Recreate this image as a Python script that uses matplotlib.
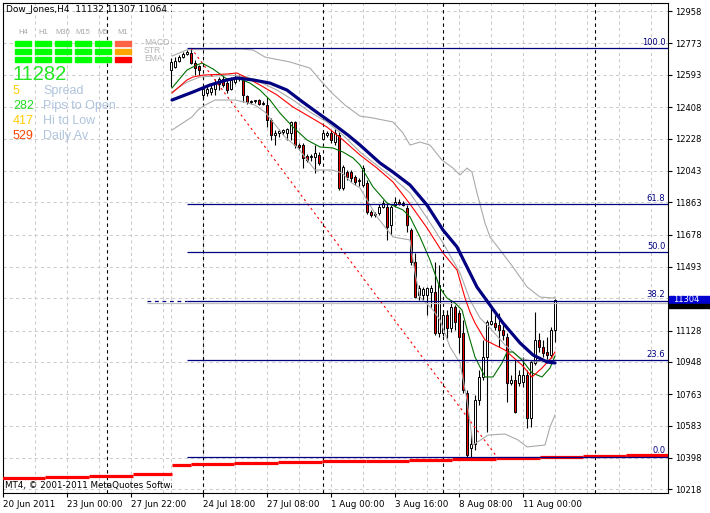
import matplotlib
matplotlib.use("Agg")
import matplotlib.pyplot as plt
from matplotlib.patches import Rectangle
from matplotlib.transforms import Bbox, blended_transform_factory

# H4 candles, bar 0 = first bar after the gap in history
opens = [12621, 12638, 12672, 12695, 12712, 12718, 12661, 12644, 12478, 12489,
         12495, 12512, 12540, 12569, 12546, 12512, 12552, 12575, 12564, 12472,
         12443, 12443, 12449, 12432, 12420, 12334, 12248, 12260, 12265, 12260,
         12260, 12323, 12191, 12191, 12128, 12122, 12122, 12134, 12226, 12248,
         12260, 12208, 12248, 11945, 12036, 12036, 12008, 11985, 11962, 11974,
         11808, 11796, 11802, 11836, 11836, 11733, 11847, 11865, 11859, 11830,
         11704, 11521, 11332, 11332, 11332, 11349, 11349, 11114, 11114, 11217,
         11142, 11263, 11228, 11114, 10770, 10455, 10478, 10730, 10862, 10976,
         11165, 11171, 11160, 11131, 11091, 10827, 10845, 10827, 10833, 10873,
         10627, 10942, 11074, 11034, 11005, 10988, 11132]
highs = [12690, 12695, 12707, 12724, 12736, 12747, 12678, 12650, 12523, 12529,
         12535, 12569, 12581, 12587, 12575, 12581, 12598, 12592, 12581, 12478,
         12449, 12449, 12455, 12443, 12466, 12346, 12277, 12283, 12283, 12288,
         12329, 12329, 12202, 12202, 12140, 12140, 12191, 12151, 12277, 12271,
         12277, 12283, 12265, 12077, 12048, 12048, 12019, 12002, 12077, 11991,
         11819, 11808, 11853, 11876, 11859, 11847, 11893, 11882, 11870, 11847,
         11716, 11572, 11389, 11378, 11378, 11389, 11521, 11504, 11246, 11246,
         11303, 11274, 11246, 11188, 10787, 10547, 10759, 10902, 11074, 11188,
         11263, 11217, 11228, 11160, 11114, 10873, 10959, 10902, 10976, 10902,
         10959, 11234, 11114, 11074, 11091, 11148, 11307]
lows = [12524, 12632, 12667, 12690, 12707, 12655, 12592, 12592, 12449, 12472,
        12478, 12478, 12506, 12524, 12489, 12506, 12540, 12558, 12437, 12426,
        12426, 12432, 12420, 12420, 12294, 12220, 12191, 12237, 12248, 12220,
        12220, 12174, 12162, 12059, 12094, 12100, 12031, 12077, 12220, 12237,
        12202, 12191, 11933, 11933, 11991, 11979, 11962, 11956, 11950, 11796,
        11779, 11779, 11790, 11830, 11647, 11676, 11836, 11847, 11842, 11693,
        11504, 11314, 11303, 11303, 11217, 11263, 11102, 11091, 11097, 11085,
        11120, 11131, 10999, 10770, 10398, 10398, 10444, 10701, 10845, 10547,
        11160, 11131, 11034, 11074, 10719, 10816, 10655, 10810, 10804, 10569,
        10575, 10930, 11005, 10976, 10942, 10970, 11064]
closes = [12667, 12672, 12695, 12712, 12724, 12661, 12632, 12621, 12512, 12512,
          12518, 12546, 12569, 12535, 12506, 12564, 12581, 12581, 12478, 12437,
          12437, 12443, 12426, 12426, 12334, 12248, 12260, 12271, 12277, 12283,
          12323, 12191, 12180, 12117, 12105, 12128, 12145, 12088, 12260, 12260,
          12220, 12260, 11945, 12065, 12008, 12002, 11979, 11991, 12059, 11808,
          11790, 11790, 11836, 11859, 11721, 11836, 11865, 11853, 11847, 11733,
          11521, 11320, 11372, 11366, 11372, 11372, 11114, 11389, 11217, 11142,
          11263, 11177, 11091, 10787, 10415, 10478, 10730, 10862, 10976, 11177,
          11182, 11148, 11131, 11102, 10827, 10845, 10661, 10873, 10873, 10627,
          10948, 11074, 11034, 10999, 10988, 11131, 11304]

# slow MA (thick navy)
slow_bar = [0.25, 5.5, 9.75, 14, 16.5, 20.5, 24.75, 29, 32.25, 36.75, 40.25, 44.25, 47.25,
            52.25, 55.5, 59.75, 64, 68, 71.5, 74, 76.5, 79.75, 83, 87.25, 90.5, 94, 96]
slow_val = [12449, 12495, 12535, 12564, 12575, 12564, 12546, 12506, 12449, 12374, 12317,
            12248, 12191, 12088, 12036, 11962, 11847, 11704, 11607, 11492, 11377, 11274,
            11171, 11057, 10988, 10948, 10942]
# medium MA (red)
mid_bar = [0.25, 4, 5.5, 8, 14, 16.5, 19, 22.25, 26.5, 30.5, 34.75, 39, 43, 47.25, 51.5,
           55.5, 59.75, 64, 68, 71.5, 73.5, 74.75, 76, 78.5, 81, 83.5, 87.75, 90.25, 92.75,
           95.25, 96]
mid_val = [12489, 12564, 12581, 12592, 12598, 12604, 12575, 12535, 12478, 12409, 12352,
           12294, 12220, 12134, 12059, 11979, 11853, 11716, 11572, 11475, 11315, 11234,
           11171, 11074, 11045, 11016, 10930, 10862, 10913, 10976, 11005]
# fast MA (green)
fast_bar = [0.25, 4, 6.5, 7.75, 10.5, 14, 17.25, 19.75, 22.25, 24.75, 27.25, 30.5, 34,
            37.25, 40.5, 43, 45.5, 47.25, 50.5, 54, 58, 59.75, 62.25, 64.75, 67.25, 69, 71,
            72.75, 74.25, 76, 78.5, 80.5, 82.75, 84, 85.5, 87.75, 90.25, 92.75, 94.75, 96]
fast_val = [12518, 12621, 12650, 12661, 12627, 12569, 12569, 12546, 12506, 12449, 12374,
            12294, 12220, 12180, 12174, 12151, 12117, 12077, 11951, 11859, 11819, 11779,
            11664, 11532, 11372, 11314, 11286, 11246, 11114, 10976, 10862, 10862, 10942,
            11005, 11005, 10959, 10885, 10862, 10913, 10982]
# bollinger bands (grey)
up_bar = [0.25, 4, 17.25, 20.5, 23.5, 29.75, 34.75, 37.25, 40.25, 43.5, 47.25, 50.5, 55.5,
          58, 59.75, 62.25, 64.75, 67.75, 70.5, 72.25, 74, 75.25, 76.5, 78.5, 79.75, 82.25,
          85.5, 89, 92.25, 95.5, 96]
up_val = [12701, 12737, 12741, 12736, 12695, 12667, 12632, 12564, 12489, 12420, 12357,
          12346, 12323, 12260, 12191, 12208, 12191, 12105, 12059, 12019, 12059, 12036,
          11916, 11744, 11664, 11590, 11492, 11378, 11320, 11314, 11320]
bb_mid_bar = [0.25, 4, 7.25, 14.75, 19, 22.25, 26.5, 30.5, 34.75, 39, 43, 47.25, 55.5,
              59.75, 64, 68, 72.25, 74.75, 77.25, 79.75, 83.5, 87.25, 91, 94.25, 96]
bb_mid_val = [12495, 12552, 12581, 12592, 12581, 12552, 12506, 12449, 12380, 12323, 12248,
              12151, 12002, 11916, 11773, 11630, 11458, 11303, 11200, 11143, 11045, 10971,
              10948, 10959, 10976]
low_bar = [0.25, 5.25, 6.75, 8.5, 11, 16, 18.5, 21, 23.5, 28.5, 31.75, 36, 40.25, 42.75,
           45.25, 47.25, 51.5, 55.5, 59.75, 61, 62.25, 65.5, 67.25, 69.75, 72.25, 74, 75.5,
           79.25, 83.5, 86.75, 89, 93.5, 94.75, 96]
low_val = [12277, 12352, 12392, 12420, 12449, 12449, 12437, 12420, 12380, 12237, 12174,
           12048, 12048, 12031, 11973, 11945, 11779, 11664, 11647, 11458, 11320, 11246,
           11188, 11034, 10942, 10730, 10472, 10529, 10535, 10501, 10461, 10472, 10575, 10644]

# thick red step line at the bottom
step_edges = [-42.25, -31.5, -20.5, -9.5, 0.25, 5, 15.75, 26.75, 37.75, 48.75, 59.5, 70.25,
              81.25, 92.25, 103, 113.75, 124.25]
step_vals = [10285, 10291, 10296, 10304, 10356, 10362, 10367, 10373, 10379, 10382, 10388,
             10394, 10399, 10405, 10411, 10417]

# fibo / trendline anchors
fib_hi, fib_hi_bar = 12747, 5
fib_lo, fib_lo_bar = 10404, 81.5
fib_levels = [0.0, 23.6, 38.2, 50.0, 61.8, 100.0]
bid_price = 11304
bid_line = 11283

price_ticks = [12958, 12773, 12593, 12408, 12228, 12043, 11863, 11678, 11493,
               11128, 10948, 10763, 10583, 10398, 10218]
date_ticks = [-42, -26, -10, 8, 24, 40, 56, 72, 88]
date_labels = ["20 Jun 2011", "23 Jun 00:00", "27 Jun 22:00", "24 Jul 18:00", "27 Jul 08:00",
               "1 Aug 00:00", "3 Aug 16:00", "8 Aug 08:00", "11 Aug 00:00"]
week_seps = [-16, 8, 38, 68, 106]

W, H = 710, 513
fig = plt.figure(figsize=(W / 100, H / 100), dpi=100)
fig.patch.set_facecolor("white")
ax = fig.add_axes([3 / W, 20 / H, 665 / W, 490 / H])
ax.set_xlim(-42, 124.25)
ax.set_ylim(10197, 13005)
for s in ax.spines.values():
    s.set_linewidth(0.8)
    s.set_color("black")

# grid
grid_x = list(range(-42, 0, 8)) + list(range(0, 125, 8))
for gx in grid_x:
    ax.axvline(gx, color="#cccccc", lw=0.75, ls=(0, (3, 3)), zorder=1)
for gy in price_ticks + [11313]:
    ax.axhline(gy, color="#cccccc", lw=0.75, ls=(0, (3, 3)), zorder=1)
for w in week_seps:
    ax.axvline(w, color="black", lw=0.8, ls=(0, (3, 3)), zorder=2)

# candles
for i in range(len(opens)):
    o, h, l, c = opens[i], highs[i], lows[i], closes[i]
    ax.vlines(i, l, h, color="black", lw=0.8, zorder=3)
    lo, hi = min(o, c), max(o, c)
    ax.bar(i, max(hi - lo, 4), bottom=lo, width=0.55,
           color="white" if c >= o else "#ee0000", edgecolor="black", lw=0.7, zorder=3)

# indicators
ax.plot(up_bar, up_val, color="#aaaaaa", lw=0.8, zorder=4)
ax.plot(bb_mid_bar, bb_mid_val, color="#aaaaaa", lw=0.8, zorder=4)
ax.plot(low_bar, low_val, color="#aaaaaa", lw=0.8, zorder=4)
ax.plot(fast_bar, fast_val, color="#007000", lw=0.8, zorder=4)
ax.plot(mid_bar, mid_val, color="#ff0000", lw=0.8, zorder=4)
ax.plot(slow_bar, slow_val, color="#000080", lw=2.3, zorder=5, solid_joinstyle="round",
        solid_capstyle="round")
ax.hlines(step_vals, step_edges[:-1], step_edges[1:], color="#ff0000", lw=2.3, zorder=4)

# trendline
ax.plot([fib_hi_bar, fib_lo_bar], [fib_hi, fib_lo], color="#ff0000", lw=0.8,
        ls=(0, (2, 3)), zorder=4)

# fibonacci levels
for lev in fib_levels:
    p = fib_lo + (fib_hi - fib_lo) * lev / 100
    ax.hlines(p, 4, 124.25, color="#000080", lw=0.9, zorder=4)
    ax.text(123.6, p + 8, f"{lev:.1f}", color="#000080", fontsize=6, ha="right",
            va="bottom", zorder=6)
p382 = fib_lo + (fib_hi - fib_lo) * 0.382
ax.hlines(p382, -6, 4, color="#000080", lw=0.9, ls=(0, (3, 3)), zorder=4)
ax.hlines(bid_line, -6, 124.25, color="#c0c0c0", lw=0.9, zorder=3)

# axes ticks
ax.yaxis.tick_right()
ax.set_yticks(price_ticks)
ax.set_yticklabels([str(t) for t in price_ticks])
ax.tick_params(axis="y", length=3, width=0.8, pad=2, labelsize=6)
ax.set_xticks(date_ticks)
ax.set_xticklabels(date_labels)
ax.tick_params(axis="x", length=3, width=0.8, pad=2, labelsize=6.3)
for lbl in ax.get_xticklabels():
    lbl.set_ha("left")

# current price label
tr = blended_transform_factory(ax.transAxes, ax.transData)
ax.add_patch(Rectangle((1.0015, bid_price - 23), 0.0617, 46, transform=tr,
                       color="#0000d0", clip_on=False, zorder=7))
ax.add_patch(Rectangle((1.0015, bid_price - 46), 0.0617, 23, transform=tr,
                       color="black", clip_on=False, zorder=7))
ax.text(1.0075, bid_price, str(bid_price), transform=tr, color="white", fontsize=6,
        va="center", ha="left", clip_on=False, zorder=8)

# header and footer texts (clipped where the chart starts)
clip = Bbox.from_extents(0, 0, 172, H)
t = fig.text(6 / W, 1 - 10 / H, "Dow_Jones,H4  11132 11307 11064 11304", fontsize=6.5,
             va="center", color="black")
t.set_clip_box(clip)
t.set_clip_on(True)
t = fig.text(5 / W, 1 - 485 / H, "MT4, \u00a9 2001-2011 MetaQuotes Software Corp.",
             fontsize=6.3, va="center", color="black")
t.set_clip_box(clip)
t.set_clip_on(True)

# signal panel
panel_cols = ["H4", "H1", "M30", "M15", "M5", "M1"]
panel_rows = ["MACD", "STR", "EMA"]
last_col_colors = ["#ff6347", "#ffa500", "#ff0000"]
for k, name in enumerate(panel_cols):
    fig.text((23 + 20 * k) / W, 1 - 33 / H, name, fontsize=5.5, color="#a8a8a8",
             ha="center", va="center", family="Liberation Sans")
    for r in range(len(panel_rows)):
        col = last_col_colors[r] if k == len(panel_cols) - 1 else "#00ff00"
        y0 = 41 + 8 * r
        fig.add_artist(Rectangle(((15 + 20 * k) / W, 1 - (y0 + 5) / H), 16 / W, 5 / H,
                                 transform=fig.transFigure, color=col))
for r, name in enumerate(panel_rows):
    fig.text(144 / W, 1 - (43 + 8 * r) / H, name, fontsize=6.2, color="#b4b4b4",
             va="center", family="Liberation Sans")

fig.text(13 / W, 1 - 75 / H, "11282", fontsize=14.5, color="#22e622", va="center",
         family="Liberation Sans")
stat_vals = ["5", "282", "417", "529"]
stat_names = ["Spread", "Pips to Open", "Hi to Low", "Daily Av"]
stat_colors = ["#ffcc00", "#22dd22", "#ffcc00", "#ff4500"]
for r in range(len(stat_vals)):
    y = 91 + 15 * r
    fig.text(13 / W, 1 - y / H, stat_vals[r], fontsize=9, color=stat_colors[r],
             va="center", family="Liberation Sans")
    fig.text(43 / W, 1 - y / H, stat_names[r], fontsize=9, color="#b0c4de",
             va="center", family="Liberation Sans")

fig.savefig("out.png", dpi=100)
